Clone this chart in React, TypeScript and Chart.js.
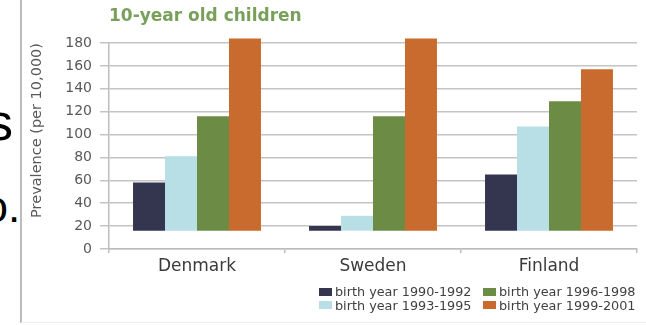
import React, { useEffect, useRef } from "react";
import { Chart, registerables } from "chart.js";

Chart.register(...registerables);

const chartTitle = "10-year old children";
const yAxisTitle = "Prevalence (per 10,000)";
const categories = ["Denmark", "Sweden", "Finland"];
const seriesLabels = [
  "birth year 1990-1992",
  "birth year 1993-1995",
  "birth year 1996-1998",
  "birth year 1999-2001",
];
const seriesColors = ["#343650", "#B8DEE6", "#6C8B45", "#C96B2E"];
const baseValue = 16;
const births1990 = [58, 20, 65];
const births1993 = [81, 29, 107];
const births1996 = [116, 116, 129];
const births1999 = [184, 184, 157];
const yMin = 0;
const yMax = 180;
const yStep = 20;

const FONT = "'DejaVu Sans', sans-serif";

export default function App() {
  const canvasRef = useRef<HTMLCanvasElement | null>(null);

  useEffect(() => {
    if (!canvasRef.current) return;
    const allSeries = [births1990, births1993, births1996, births1999];
    const chart = new Chart(canvasRef.current, {
      type: "bar",
      data: {
        labels: categories,
        datasets: allSeries.map((vals, i) => ({
          label: seriesLabels[i],
          data: vals.map((v) => [baseValue, v]) as any,
          backgroundColor: seriesColors[i],
          borderWidth: 0,
          barPercentage: 1,
          categoryPercentage: 0.727,
          clip: false as any,
        })),
      },
      options: {
        animation: false,
        responsive: true,
        maintainAspectRatio: false,
        layout: { padding: { left: 22, right: 9, top: 0, bottom: 46 } },
        plugins: {
          legend: { display: false },
          tooltip: { enabled: false },
          title: {
            display: true,
            text: chartTitle,
            align: "start",
            fullSize: false,
            color: "#78A05A",
            font: { family: FONT, size: 17, weight: "bold" },
            padding: { top: 6, bottom: 16.6 },
          },
        },
        scales: {
          x: {
            offset: true,
            grid: {
              offset: true,
              drawOnChartArea: false,
              drawTicks: true,
              tickLength: 4,
              color: "#BDBDBD",
              lineWidth: 1.5,
            },
            border: { color: "#BDBDBD", width: 1.5 },
            ticks: {
              color: "#3A3A3A",
              font: { family: FONT, size: 17 },
              padding: 3,
            },
            afterFit: (scale: any) => {
              scale.height = 30;
            },
          },
          y: {
            min: yMin,
            max: yMax,
            ticks: {
              stepSize: yStep,
              color: "#595959",
              font: { family: FONT, size: 14 },
              padding: 8,
            },
            grid: {
              color: "#C4C4C4",
              lineWidth: 1.5,
              drawTicks: true,
              tickLength: 9,
            },
            border: { color: "#BDBDBD", width: 1.5 },
            title: {
              display: true,
              text: yAxisTitle,
              align: "end",
              color: "#595959",
              font: { family: FONT, size: 14.5 },
              padding: { top: 7, bottom: 0 },
            },
            afterFit: (scale: any) => {
              scale.width = 87;
            },
          },
        },
      },
    });
    return () => chart.destroy();
  }, []);

  const legendOrder = [0, 1, 2, 3];

  return (
    <div
      style={{
        position: "absolute",
        left: 0,
        top: 0,
        width: 646,
        height: 325,
        overflow: "hidden",
        background: "#FFFFFF",
        fontFamily: FONT,
      }}
    >
      <span
        style={{
          position: "absolute",
          left: -13,
          top: 96,
          fontFamily: "'Liberation Sans', Arial, sans-serif",
          fontSize: 52,
          lineHeight: "52px",
          color: "#000",
          whiteSpace: "nowrap",
        }}
      >
        s
      </span>
      <span
        style={{
          position: "absolute",
          left: -16.5,
          top: 184.8,
          fontFamily: "'Liberation Sans', Arial, sans-serif",
          fontSize: 44,
          lineHeight: "44px",
          color: "#000",
          whiteSpace: "nowrap",
        }}
      >
        o.
      </span>
      <div
        style={{
          position: "absolute",
          left: 20,
          top: 0,
          width: 1.5,
          height: 323,
          background: "#BDBDBD",
        }}
      />
      <div
        style={{
          position: "absolute",
          left: 21,
          top: 322,
          width: 625,
          height: 1,
          background: "#EEEEEE",
        }}
      />
      <div style={{ position: "absolute", left: 0, top: 0, width: 646, height: 325 }}>
        <canvas ref={canvasRef} />
      </div>
      <div
        style={{
          position: "absolute",
          left: 319,
          top: 285,
          display: "grid",
          gridTemplateColumns: "164px 164px",
          gridTemplateRows: "13.5px 13.5px",
          gridAutoFlow: "column",
        }}
      >
        {legendOrder.map((i) => (
          <div
            key={seriesLabels[i]}
            style={{
              display: "flex",
              alignItems: "center",
              fontSize: 12.8,
              lineHeight: "13.5px",
              color: "#404040",
              whiteSpace: "nowrap",
            }}
          >
            <span
              style={{
                display: "inline-block",
                width: 13,
                height: 8,
                background: seriesColors[i],
                marginRight: 3,
              }}
            />
            {seriesLabels[i]}
          </div>
        ))}
      </div>
    </div>
  );
}
